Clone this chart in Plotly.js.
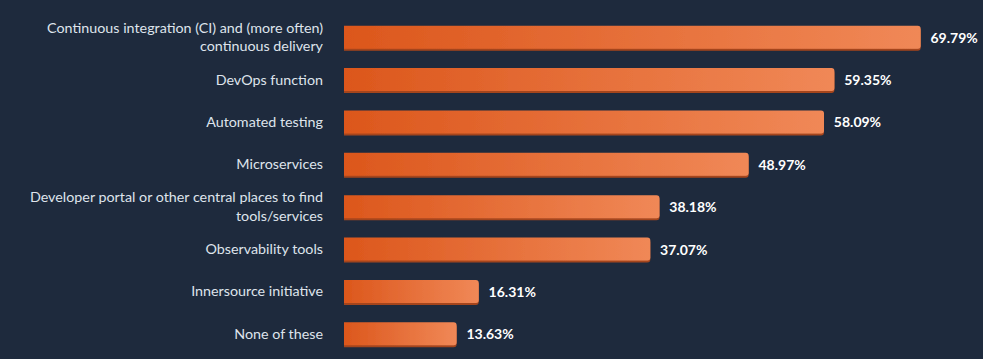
<!DOCTYPE html>
<html>
<head>
<meta charset="utf-8">
<script src="https://cdn.plot.ly/plotly-3.0.1.min.js"></script>
<style>html,body{margin:0;padding:0;background:#1e2a3d;}#chart{width:983px;height:359px;}</style>
</head>
<body>
<div id="chart"></div>
<script>
const categories = [
  "Continuous integration (CI) and (more often)<br>continuous delivery",
  "DevOps function",
  "Automated testing",
  "Microservices",
  "Developer portal or other central places to find<br>tools/services",
  "Observability tools",
  "Innersource initiative",
  "None of these"
];
const values = [69.79, 59.35, 58.09, 48.97, 38.18, 37.07, 16.31, 13.63];

const trace = {
  type: 'bar',
  orientation: 'h',
  y: categories,
  x: values,
  marker: {color: '#e8723c', line: {width: 0}},
  text: values.map(v => '\u00a0\u00a0' + v.toFixed(2) + '%'),
  textposition: 'outside',
  cliponaxis: false,
  textfont: {family: 'Lato, sans-serif', size: 14, color: '#ffffff', weight: 'bold'},
  hoverinfo: 'skip'
};

const layout = {
  width: 983, height: 359,
  paper_bgcolor: '#1e2a3d', plot_bgcolor: '#1e2a3d',
  margin: {l: 344, r: 11, t: 16, b: 4},
  bargap: 0.46,
  barcornerradius: 3,
  showlegend: false,
  xaxis: {range: [0, 76], visible: false, fixedrange: true},
  yaxis: {
    autorange: 'reversed', showgrid: false, zeroline: false, showline: false,
    ticks: '', ticklabelstandoff: 20,
    tickfont: {family: 'Lato, sans-serif', size: 14.3, color: '#dfe4ec'}
  },
  font: {family: 'Lato, sans-serif'}
};

Plotly.newPlot('chart', [trace], layout, {displayModeBar: false, staticPlot: true}).then(gd => {
  const NS = 'http://www.w3.org/2000/svg';
  const svg = gd.querySelector('.main-svg');
  let defs = svg.querySelector('defs');
  if (!defs) { defs = document.createElementNS(NS, 'defs'); svg.insertBefore(defs, svg.firstChild); }
  const grad = document.createElementNS(NS, 'linearGradient');
  grad.setAttribute('id', 'barGrad');
  grad.setAttribute('x1', '0'); grad.setAttribute('y1', '0');
  grad.setAttribute('x2', '1'); grad.setAttribute('y2', '0');
  [['0', '#dc571c'], ['1', '#f08857']].forEach(([o, c]) => {
    const s = document.createElementNS(NS, 'stop');
    s.setAttribute('offset', o); s.setAttribute('stop-color', c);
    grad.appendChild(s);
  });
  defs.appendChild(grad);
  const filt = document.createElementNS(NS, 'filter');
  filt.setAttribute('id', 'barShadow');
  filt.setAttribute('x', '-5%'); filt.setAttribute('y', '-20%');
  filt.setAttribute('width', '110%'); filt.setAttribute('height', '150%');
  const ds = document.createElementNS(NS, 'feDropShadow');
  ds.setAttribute('dx', '0'); ds.setAttribute('dy', '2');
  ds.setAttribute('stdDeviation', '0.4');
  ds.setAttribute('flood-color', '#a5441a');
  filt.appendChild(ds);
  defs.appendChild(filt);
  gd.querySelectorAll('.bars .point path').forEach(p => {
    p.style.fill = 'url(#barGrad)';
    p.setAttribute('filter', 'url(#barShadow)');
  });
});
</script>
</body>
</html>
